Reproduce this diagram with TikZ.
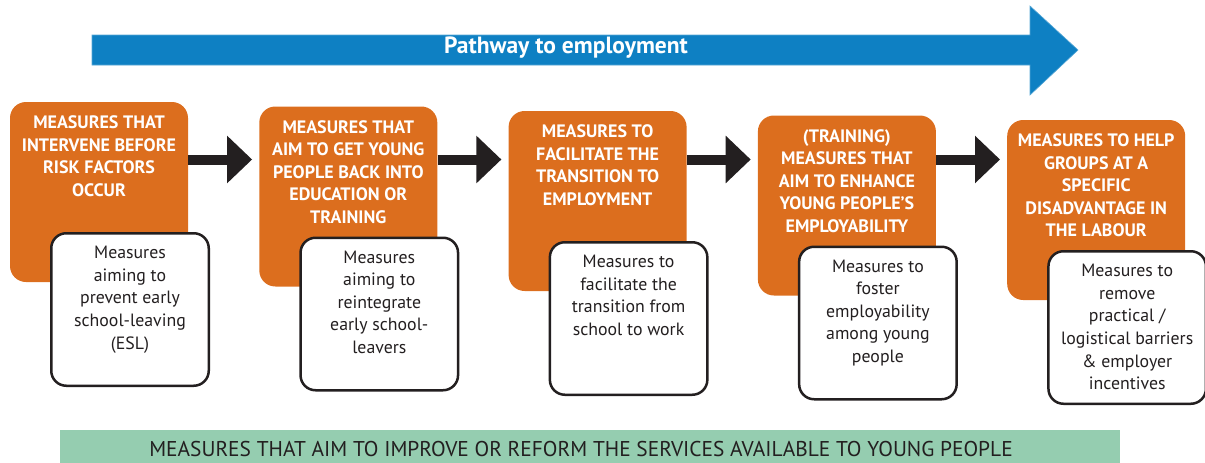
\documentclass[tikz,border=0pt]{standalone}
\usepackage{fontspec}
\setmainfont{PT Sans}
\usetikzlibrary{arrows.meta,positioning}
\definecolor{orng}{HTML}{DC6E1E}
\definecolor{blu}{HTML}{0E80C3}
\definecolor{grn}{HTML}{95CDB0}
\definecolor{dark}{HTML}{231F20}
\begin{document}
\begin{tikzpicture}[x=1pt,y=-1pt,
  obox/.style={rectangle, rounded corners=16pt, fill=orng, minimum width=178pt, minimum height=180pt, inner sep=0pt},
  otext/.style={anchor=north, text=white, font=\bfseries\fontsize{18}{22.5}\selectfont, align=center, inner sep=0pt, execute at begin node={\rule{0pt}{13pt}}},
  wbox/.style={rectangle, rounded corners=15pt, draw=dark, line width=2.5pt, fill=white, minimum width=157.5pt, minimum height=152.5pt, inner sep=0pt},
  wtext/.style={anchor=north, text=dark, font=\fontsize{17.8}{22.6}\selectfont, align=center, inner sep=0pt, execute at begin node={\rule{0pt}{13pt}}},
  flow/.style={draw=dark, line width=10pt, -{Triangle[length=25pt,width=46pt]}, shorten >=7pt},
  bigarrow/.style={fill=blu, draw=blu!70!white, line width=0.6pt},
]
\useasboundingbox (0,0) rectangle (1205,463);

% top arrow
\path[bigarrow] (92,35) -- (1030,35) -- (1030,6) -- (1078,50) -- (1030,95) -- (1030,65) -- (92,65) -- cycle;
\node[text=white, font=\bfseries\fontsize{23.5}{26}\selectfont] (pw) at (566,48) {Pathway to employment};

% orange boxes
\foreach \i/\t in {1/{MEASURES THAT\\INTERVENE BEFORE\\RISK FACTORS\\OCCUR},
                   2/{MEASURES THAT\\AIM TO GET YOUNG\\PEOPLE BACK INTO\\EDUCATION OR\\TRAINING},
                   3/{MEASURES TO\\FACILITATE THE\\TRANSITION TO\\EMPLOYMENT},
                   4/{(TRAINING)\\MEASURES THAT\\AIM TO ENHANCE\\YOUNG PEOPLE’S\\EMPLOYABILITY},
                   5/{MEASURES TO HELP\\GROUPS AT A\\SPECIFIC\\DISADVANTAGE IN\\THE LABOUR}}{
  \node[obox] (o\i) at ({99+249.3*(\i-1)}, {192+4.5*(\i-1)}) {};
  \node[otext, below=14pt of o\i.north] (ot\i) {\t};
}

% arrows between boxes
\coordinate (ay) at (0,159.5);
\foreach \a/\b in {1/2,2/3,3/4,4/5}{
  \draw[flow] (o\a.east |- ay) -- (o\b.west |- ay);
}

% white boxes
\foreach \i/\t in {1/{Measures\\aiming to\\prevent early\\school-leaving\\(ESL)},
                   2/{Measures\\aiming to\\reintegrate\\early school-\\leavers},
                   3/{Measures to\\facilitate the\\transition from\\school to work},
                   4/{Measures to\\foster\\employability\\among young\\people},
                   5/{Measures to\\remove\\practical /\\logistical barriers\\\& employer\\incentives}}{
  \node[wbox] (w\i) at ({130+249.3*(\i-1)}, {309.5+4.5*(\i-1)}) {};
  \node[wtext, below=14pt of w\i.north] (wt\i) {\t};
}

% bottom bar
\path[fill=grn] (60,430) rectangle (1120,463);
\node[text=dark, font=\fontsize{21.4}{24}\selectfont, inner sep=0pt] (bar) at (581,449) {MEASURES THAT AIM TO IMPROVE OR REFORM THE SERVICES AVAILABLE TO YOUNG PEOPLE};
\end{tikzpicture}
\end{document}
